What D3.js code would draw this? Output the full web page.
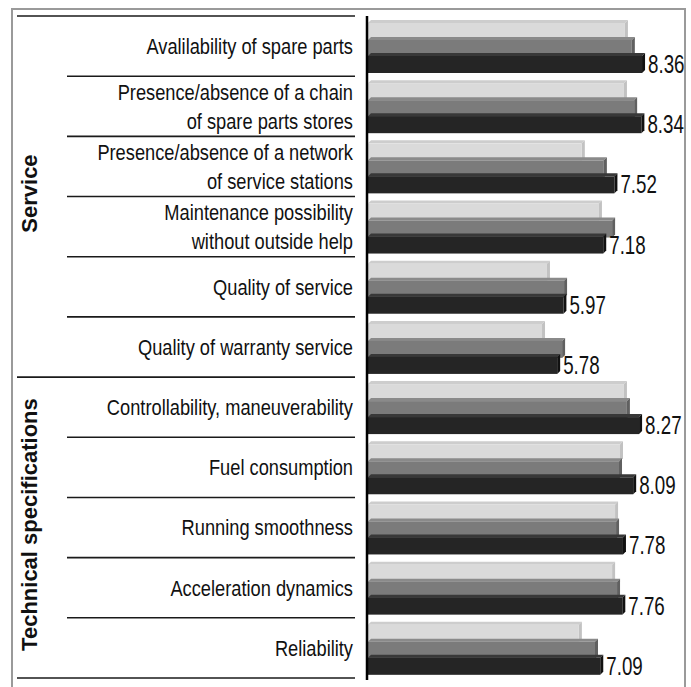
<!DOCTYPE html>
<html>
<head>
<meta charset="utf-8">
<script src="https://cdn.jsdelivr.net/npm/d3@7/dist/d3.min.js"></script>
<style>
  html, body { margin: 0; padding: 0; background: #fff; }
  svg { display: block; }
  text { font-family: "Liberation Sans", Arial, sans-serif; fill: #111; }
</style>
</head>
<body>
<svg id="chart" width="691" height="687"></svg>
<script>
// Category rows, top to bottom
const categories = [
  ["Avalilability of spare parts"],
  ["Presence/absence of a chain", "of spare parts stores"],
  ["Presence/absence of a network", "of service stations"],
  ["Maintenance possibility", "without outside help"],
  ["Quality of service"],
  ["Quality of warranty service"],
  ["Controllability, maneuverability"],
  ["Fuel consumption"],
  ["Running smoothness"],
  ["Acceleration dynamics"],
  ["Reliability"]
];
// Group headings and how many rows each covers
const groups = ["Service", "Technical specifications"];
const groupSizes = [6, 5];

// Three series per row (light, medium, dark); the dark one is labelled
const seriesLight  = [7.84, 7.81, 6.53, 7.05, 5.47, 5.32, 7.81, 7.69, 7.54, 7.45, 6.44];
const seriesMedium = [8.05, 8.12, 7.20, 7.45, 5.99, 5.93, 7.90, 7.66, 7.57, 7.60, 6.93];
const seriesDark   = [8.36, 8.34, 7.52, 7.18, 5.97, 5.78, 8.27, 8.09, 7.78, 7.76, 7.09];
const valueLabels  = ["8.36", "8.34", "7.52", "7.18", "5.97", "5.78", "8.27", "8.09", "7.78", "7.76", "7.09"];

const svg = d3.select("#chart");

const plotTop = 16, plotBottom = 678;
const axisX = 367;

const y = d3.scaleBand()
  .domain(d3.range(categories.length))
  .range([plotTop, plotBottom])
  .paddingInner(0).paddingOuter(0);

const x = d3.scaleLinear().domain([0, 10]).range([axisX, 696]);

// outer frame
svg.append("rect")
  .attr("x", 12).attr("y", 9).attr("width", 673).attr("height", 690)
  .attr("fill", "none").attr("stroke", "#9a9a9a").attr("stroke-width", 2);

// row separators in the label panel
const sepLines = [{ y: plotTop, full: true }];
let idx = 0;
groupSizes.forEach(n => {
  for (let k = 1; k <= n; k++) {
    idx++;
    sepLines.push({ y: y(idx - 1) + y.bandwidth(), full: k === n });
  }
});
svg.selectAll("line.sep").data(sepLines).join("line")
  .attr("class", "sep")
  .attr("x1", d => d.full ? 17 : 67).attr("x2", 355)
  .attr("y1", d => d.y).attr("y2", d => d.y)
  .attr("stroke", "#1a1a1a").attr("stroke-width", 1.6);

// group headings, rotated
let start = 0;
groups.forEach((g, gi) => {
  const y0 = y(start), y1 = y(start + groupSizes[gi] - 1) + y.bandwidth();
  svg.append("text")
    .attr("transform", `translate(37,${(y0 + y1) / 2 - 3}) rotate(-90)`)
    .attr("text-anchor", "middle")
    .style("font-size", "22px").style("font-weight", "bold")
    .text(g);
  start += groupSizes[gi];
});

// category labels
const labelG = svg.selectAll("g.lab").data(categories).join("g")
  .attr("class", "lab")
  .attr("transform", (d, i) => `translate(353,${y(i) + y.bandwidth() / 2}) scale(0.83,1)`);
labelG.each(function (lines) {
  const g = d3.select(this);
  const n = lines.length;
  lines.forEach((t, j) => {
    g.append("text")
      .attr("x", 0)
      .attr("y", (j - (n - 1) / 2) * 29)
      .attr("dy", "0.36em")
      .attr("text-anchor", "end")
      .style("font-size", "22px")
      .text(t);
  });
});

// 3D-style horizontal bars
const depth = 3;
const barH = 17;
const series = [
  { vals: seriesLight,  off: 7,  front: "#dadada", topc: "#cdcdcd", side: "#c2c2c2" },
  { vals: seriesMedium, off: 24, front: "#7b7b7b", topc: "#8a8a8a", side: "#606060" },
  { vals: seriesDark,   off: 40, front: "#252525", topc: "#383838", side: "#111111" }
];

series.forEach(s => {
  const g = svg.append("g");
  s.vals.forEach((v, i) => {
    const y0 = y(i) + s.off, x0 = x(0) + 1, x1 = x(v);
    // top face
    g.append("polygon")
      .attr("points", [[x0, y0], [x0 + depth, y0 - depth], [x1 + depth, y0 - depth], [x1, y0]].join(" "))
      .attr("fill", s.topc);
    // side face
    g.append("polygon")
      .attr("points", [[x1, y0], [x1 + depth, y0 - depth], [x1 + depth, y0 + barH - depth], [x1, y0 + barH]].join(" "))
      .attr("fill", s.side);
    // front face
    g.append("rect")
      .attr("x", x0).attr("y", y0).attr("width", x1 - x0).attr("height", barH)
      .attr("fill", s.front);
  });
});

// value labels for the dark series
svg.selectAll("text.val").data(seriesDark).join("text")
  .attr("class", "val")
  .attr("transform", (d, i) => `translate(${x(d) + depth + 3},${y(i) + 57}) scale(0.75,1)`)
  .style("font-size", "25px")
  .text((d, i) => valueLabels[i]);

// vertical axis line
svg.append("line")
  .attr("x1", axisX).attr("x2", axisX)
  .attr("y1", plotTop).attr("y2", plotBottom + 2)
  .attr("stroke", "#000").attr("stroke-width", 2.5);
</script>
</body>
</html>
